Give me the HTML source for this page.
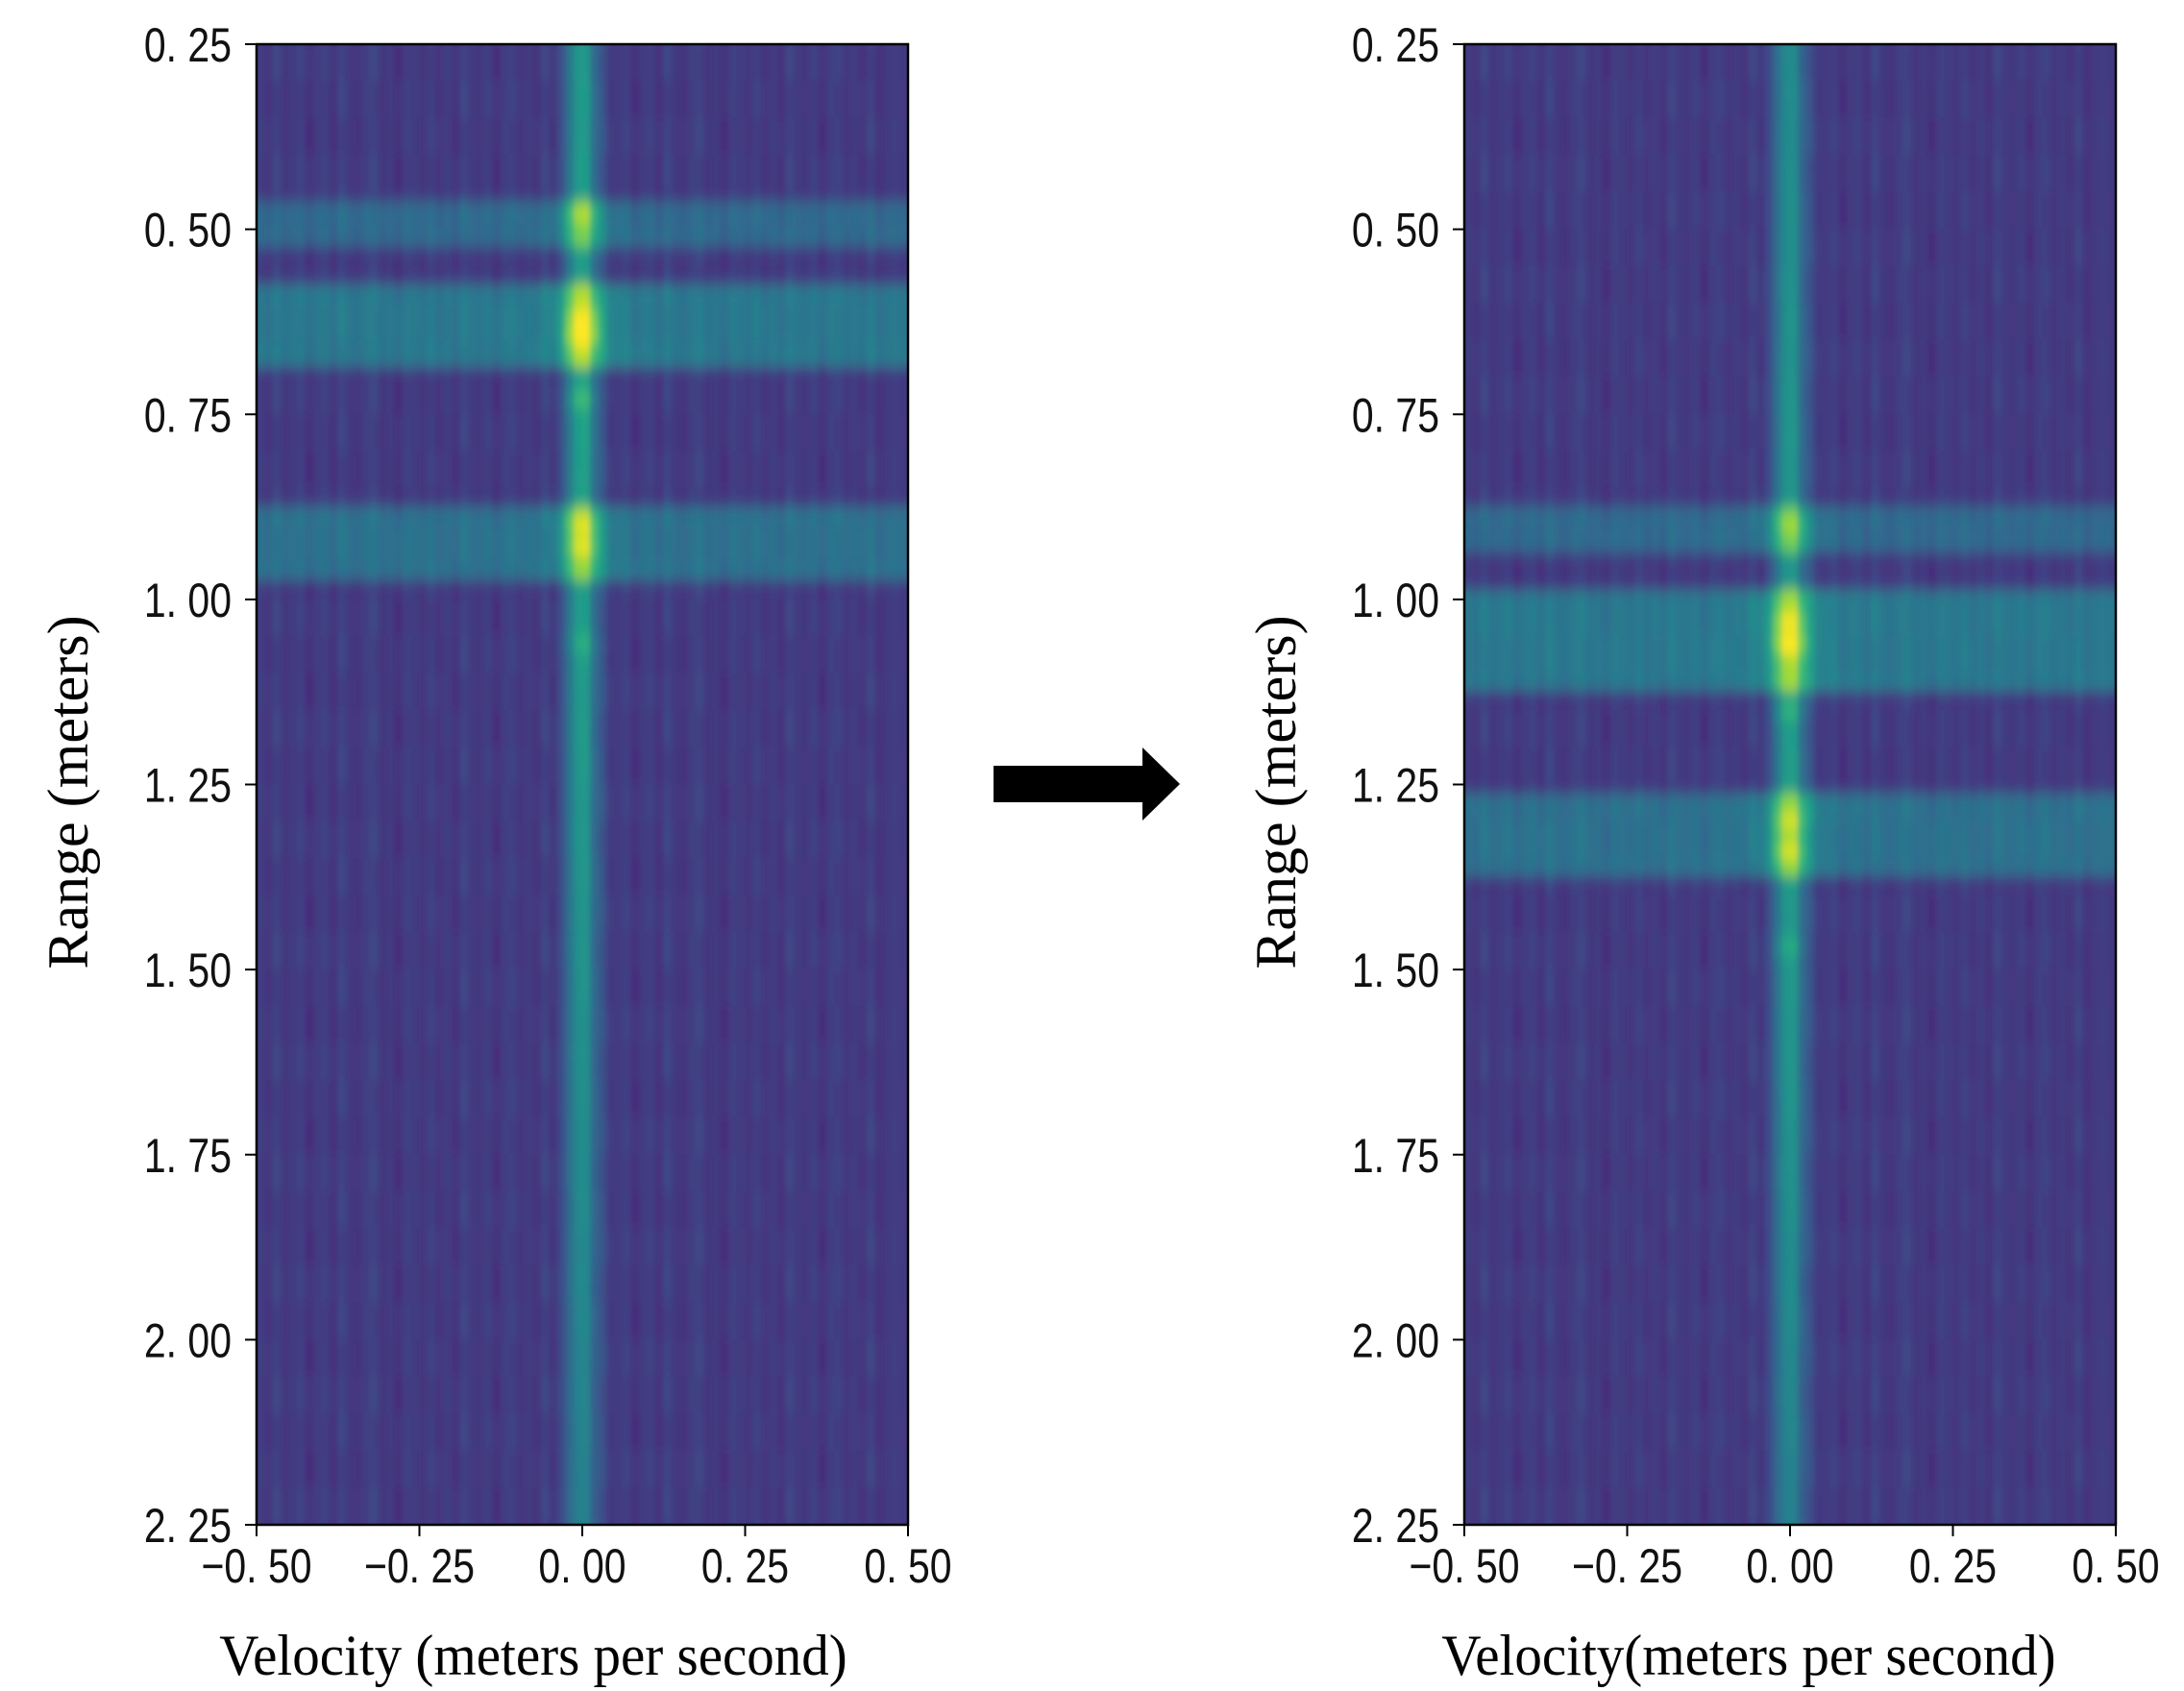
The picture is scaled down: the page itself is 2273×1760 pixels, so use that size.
<!DOCTYPE html>
<html><head><meta charset="utf-8"><style>
html,body{margin:0;padding:0;background:#fff;}
svg{display:block;}
.tk{font-family:"Liberation Sans",sans-serif;font-size:50px;fill:#111;}
.lb{font-family:"Liberation Serif",serif;font-size:60px;fill:#000;}
</style></head><body>
<svg id="fig" width="2273" height="1760" viewBox="0 0 2273 1760" xmlns="http://www.w3.org/2000/svg">
<defs>
<filter id="blr" filterUnits="userSpaceOnUse" x="0" y="0" width="2273" height="1760"><feGaussianBlur stdDeviation="3 7"/></filter>
<clipPath id="clipL"><rect x="267" y="46" width="678" height="1541"/></clipPath>
<clipPath id="clipR"><rect x="1524" y="46" width="678" height="1541"/></clipPath>
</defs>
<g id="panelL"></g>
<g id="panelR"></g>
<g>
<polygon points="1034,797 1189,797 1189,778 1228,816 1189,854 1189,835 1034,835" fill="#000"/>
</g>
</svg>
<script>
// ---- data ----
const velTicks = [-0.5, -0.25, 0, 0.25, 0.5];
const velTickLabels = ["\u22120. 50", "\u22120. 25", "0. 00", "0. 25", "0. 50"];
const rangeTicks = [0.25, 0.5, 0.75, 1.0, 1.25, 1.5, 1.75, 2.0, 2.25];
const rangeTickLabels = ["0. 25","0. 50","0. 75","1. 00","1. 25","1. 50","1. 75","2. 00","2. 25"];
// horizontal bands (static reflections)
const leftBandStart = [0.46, 0.58, 0.87];
const leftBandEnd   = [0.53, 0.69, 0.97];
const leftBandLevel = [0.17, 0.23, 0.2];
const rightBandStart = [0.88, 0.99, 1.26];
const rightBandEnd   = [0.94, 1.12, 1.38];
const rightBandLevel = [0.17, 0.23, 0.2];
// ridge peaks at zero velocity
const leftPeakRange = [0.48, 0.62, 0.645, 0.73, 0.90, 0.93, 1.06];
const leftPeakLevel = [0.12, 0.2, 0.28, 0.14, 0.16, 0.16, 0.1];
const rightPeakRange = [0.90, 1.03, 1.06, 1.15, 1.30, 1.34, 1.47];
const rightPeakLevel = [0.12, 0.2, 0.28, 0.14, 0.15, 0.16, 0.1];
// ridge base level at range samples
const ridgeRange = [0.25, 0.75, 1.25, 1.75, 2.25];
const leftRidgeBase  = [0.38, 0.42, 0.38, 0.33, 0.28];
const rightRidgeBase = [0.32, 0.36, 0.40, 0.35, 0.28];
// background streak texture (per velocity column)
const streak = [0.02,-0.03,0.05,-0.02,0.0,0.04,-0.05,0.01,0.03,-0.04,0.06,-0.01,-0.03,0.02,0.05,-0.02,0.0,-0.05,0.03,0.01,
  -0.02,0.04,-0.03,0.02,-0.04,0.05,0.0,-0.01,0.03,-0.05,0.02,0.04,-0.02,0.01,-0.03,0.05,-0.04,0.0,0.02,-0.01];

// ---- helpers ----
const VIR = [[68,1,84],[72,40,120],[62,74,137],[49,104,142],[38,130,142],[31,158,137],[53,183,121],[110,206,88],[181,222,43],[253,231,37]];
function viridis(t){t=Math.max(0,Math.min(1,t));const p=t*(VIR.length-1);const i=Math.min(VIR.length-2,Math.floor(p));const f=p-i;
  const c=VIR[i].map((v,k)=>Math.round(v+(VIR[i+1][k]-v)*f));return `rgb(${c[0]},${c[1]},${c[2]})`;}
function interp(xs,ys,x){if(x<=xs[0])return ys[0];for(let i=0;i<xs.length-1;i++){if(x<=xs[i+1]){const f=(x-xs[i])/(xs[i+1]-xs[i]);return ys[i]+(ys[i+1]-ys[i])*f;}}return ys[ys.length-1];}
const NS='http://www.w3.org/2000/svg';
function mk(tag,attrs,parent){const e=document.createElementNS(NS,tag);for(const k in attrs)e.setAttribute(k,attrs[k]);parent.appendChild(e);return e;}

function drawPanel(g, x0, clipId, bs, be, bl, pr, pl, rb, ylabel, xlabel, xlabelX){
  const W=678, y0=46, y1=1587;
  const xs=v=>x0+(v+0.5)/1.0*W;
  const ys=r=>y0+(r-0.25)/2.0*(y1-y0);
  const heat=mk('g',{'clip-path':`url(#${clipId})`},g);
  
  
  const inner=mk('g',{filter:'url(#blr)'},heat);
  const nc=80, nr=160, dv=1/nc, dr=2/nr;
  for(let r=-3;r<nr+3;r++){
    const rng=0.25+(r+0.5)*dr;
    let band=0;for(let b=0;b<bs.length;b++){if(rng>=bs[b]&&rng<=be[b])band=Math.max(band,bl[b]);}
    let ridge=interp(ridgeRange,rb,rng);
    for(let p=0;p<pr.length;p++){ridge+=pl[p]*Math.exp(-Math.pow((rng-pr[p])/0.012,2));}
    for(let c=-2;c<nc+2;c++){
      const vel=-0.5+(c+0.5)*dv;
      const cc=((c%streak.length)+streak.length)%streak.length;
      const s=streak[cc]*0.6*(1+0.5*(((r>>2)+c)%3-1));
      const val=0.17+s+band+ridge*Math.exp(-Math.pow(vel/0.024,2))+band*0.4*Math.exp(-Math.pow(vel/0.06,2));
      const cell=mk('rect',{x:xs(vel-dv/2)-0.5,y:ys(rng-dr/2)-0.5,width:W/nc+1,height:(y1-y0)/nr+1,fill:viridis(val)},inner);
      
      
    }
  }
  const frame=mk('rect',{x:x0,y:y0,width:W,height:y1-y0,fill:'none',stroke:'#000','stroke-width':2.5},g);
  
  
  rangeTicks.forEach((t,i)=>{
    const y=ys(t);
    const tm=mk('line',{x1:x0-12,x2:x0,y1:y,y2:y,stroke:'#000','stroke-width':2},g);
    
    
    const tx=mk('text',{x:0,y:0,'text-anchor':'end',class:'tk',transform:`translate(${x0-26},${y+18}) scale(0.82,1)`},g);
    tx.textContent=rangeTickLabels[i];
    
    
  });
  velTicks.forEach((t,i)=>{
    const x=xs(t);
    const tm=mk('line',{x1:x,x2:x,y1:y1,y2:y1+12,stroke:'#000','stroke-width':2},g);
    
    
    const tx=mk('text',{x:0,y:0,'text-anchor':'middle',class:'tk',transform:`translate(${x},${y1+60}) scale(0.82,1)`},g);
    tx.textContent=velTickLabels[i];
    
    
  });
  const yl=mk('text',{x:0,y:0,'text-anchor':'middle',class:'lb',transform:`translate(${x0-176},${(y0+y1)/2+8}) rotate(-90)`},g);
  yl.textContent=ylabel;
  
  
  const xl=mk('text',{x:0,y:0,'text-anchor':'middle',class:'lb',transform:`translate(${xlabelX},1743) scale(0.95,1)`},g);
  xl.textContent=xlabel;
  
  
}
drawPanel(document.getElementById('panelL'),267,'clipL',leftBandStart,leftBandEnd,leftBandLevel,leftPeakRange,leftPeakLevel,leftRidgeBase,'Range (meters)','Velocity (meters per second)',555);
drawPanel(document.getElementById('panelR'),1524,'clipR',rightBandStart,rightBandEnd,rightBandLevel,rightPeakRange,rightPeakLevel,rightRidgeBase,'Range (meters)','Velocity(meters per second)',1820);
</script>
</body></html>
